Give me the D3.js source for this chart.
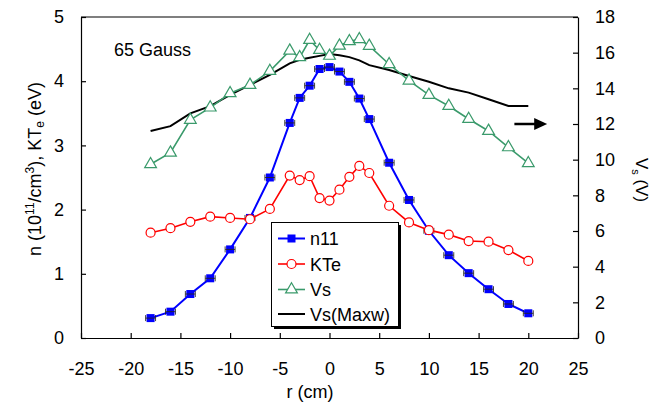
<!DOCTYPE html>
<html><head><meta charset="utf-8">
<script src="https://cdn.jsdelivr.net/npm/d3@7"></script>
<style>
html,body{margin:0;padding:0;background:#fff;}
svg{display:block;font-family:"Liberation Sans",Arial,Helvetica,sans-serif;}
</style></head>
<body>
<svg id="chart" width="652" height="407"></svg>
<script>
// ---- data ----
const rPos   = [-18,-16,-14,-12,-10,-8,-6,-4,-3,-2,-1,0,1,2,3,4,6,8,10,12,14,16,18,20];
const n11    = [0.31,0.41,0.685,0.93,1.38,1.87,2.50,3.35,3.74,3.93,4.19,4.22,4.15,3.99,3.73,3.41,2.73,2.15,1.67,1.29,1.01,0.76,0.53,0.385];
const n11Err = [0.5,0.5,0.5,0.5,0.5,0.5,0.5,0.5,0.5,0.5,0.5,0.5,0.5,0.5,0.5,0.5,0.5,0.5,0.5,0.5,0.5,0.5,0.5,0.5];
const kTe    = [1.64,1.71,1.81,1.89,1.87,1.85,2.01,2.53,2.46,2.52,2.18,2.14,2.31,2.51,2.68,2.57,2.06,1.80,1.68,1.61,1.51,1.50,1.37,1.20];
const vs     = [9.74,10.39,12.23,12.92,13.72,14.19,14.97,16.11,15.74,16.71,16.15,15.82,16.39,16.64,16.75,16.38,15.35,14.43,13.63,13.01,12.28,11.61,10.69,9.80];
const rMaxw  = [-18,-16,-14,-12,-10,-8,-6,-4,-3,-2,-1,0,1,2,3,4,6,8,10,12,14,16,18,20];
const vsMaxw = [11.61,11.88,12.6,13.0,13.63,14.19,14.75,15.4,15.6,15.72,15.82,15.93,15.85,15.75,15.57,15.3,15.03,14.69,14.37,14.0,13.76,13.39,13.01,13.01];
const xTicks  = [-25,-20,-15,-10,-5,0,5,10,15,20,25];
const yLTicks = [0,1,2,3,4,5];
const yRTicks = [0,2,4,6,8,10,12,14,16,18];
const seriesNames = ["n11","KTe","Vs","Vs(Maxw)"];
const arrowR = [18.6, 21.9];
const arrowV = 12;

// ---- layout ----
const L=81, R=578, T=17, B=338;
const x  = d3.scaleLinear().domain([-25,25]).range([L,R]);
const yL = d3.scaleLinear().domain([0,5]).range([B,T]);
const yR = d3.scaleLinear().domain([0,18]).range([B,T]);
const cBlue="#0000ff", cRed="#ff0000", cGreen="#3a9a6b", cBlack="#000";
const fmt = d => String(d);

const svg = d3.select("#chart");

// axes
const fs = "18px";
const gx = svg.append("g").attr("transform",`translate(0,${B})`)
  .call(d3.axisBottom(x).tickValues(xTicks).tickSizeInner(-5).tickSizeOuter(0).tickPadding(24).tickFormat(fmt));
const gl = svg.append("g").attr("transform",`translate(${L},0)`)
  .call(d3.axisLeft(yL).tickValues(yLTicks).tickSizeInner(-5).tickSizeOuter(0).tickPadding(17).tickFormat(fmt));
const gr = svg.append("g").attr("transform",`translate(${R},0)`)
  .call(d3.axisRight(yR).tickValues(yRTicks).tickSizeInner(-5).tickSizeOuter(0).tickPadding(17).tickFormat(fmt));
[gx,gl,gr].forEach(g=>{
  g.selectAll("text").attr("font-size",fs).attr("font-family","Liberation Sans, Arial, sans-serif").attr("fill","#000");
  g.selectAll("line,path").attr("stroke","#000").attr("stroke-width",1.2);
});
gx.selectAll(".tick text").attr("dy","0").attr("y",37);
// top frame line
svg.append("line").attr("x1",L).attr("x2",R).attr("y1",T).attr("y2",T).attr("stroke","#000").attr("stroke-width",1.2);

// axis titles
svg.append("text").attr("x",310).attr("y",398).attr("text-anchor","middle").attr("font-size",fs).text("r (cm)");
const lt = svg.append("text").attr("transform",`translate(41,169) rotate(-90)`).attr("text-anchor","middle").attr("font-size",fs);
lt.append("tspan").text("n (10");
lt.append("tspan").attr("font-size","12px").attr("dy","-7").text("11");
lt.append("tspan").attr("dy","7").text("/cm");
lt.append("tspan").attr("font-size","12px").attr("dy","-7").text("3");
lt.append("tspan").attr("dy","7").text("), KT");
lt.append("tspan").attr("font-size","12px").attr("dy","3").text("e");
lt.append("tspan").attr("dy","-3").text(" (eV)");
const rt = svg.append("text").attr("transform",`translate(636,180) rotate(90)`).attr("text-anchor","middle").attr("font-size","17px");
rt.append("tspan").text("V");
rt.append("tspan").attr("font-size","11px").attr("dy","4").text("s");
rt.append("tspan").attr("dy","-4").text(" (V)");

// annotation
svg.append("text").attr("x",114).attr("y",56).attr("font-size",fs).text("65 Gauss");
svg.append("line").attr("x1",x(arrowR[0])).attr("x2",x(arrowR[1])-10).attr("y1",yR(arrowV)).attr("y2",yR(arrowV)).attr("stroke","#000").attr("stroke-width",2.5);
svg.append("path").attr("d",`M${x(arrowR[1])},${yR(arrowV)} L${x(arrowR[1])-13},${yR(arrowV)-6} L${x(arrowR[1])-13},${yR(arrowV)+6}Z`).attr("fill","#000");

// series
const dN = rPos.map((r,i)=>({r,v:n11[i],e:n11Err[i]}));
const dK = rPos.map((r,i)=>({r,v:kTe[i]}));
const dV = rPos.map((r,i)=>({r,v:vs[i]}));
const dM = rMaxw.map((r,i)=>({r,v:vsMaxw[i]}));

svg.append("path").datum(dM).attr("fill","none").attr("stroke",cBlack).attr("stroke-width",2)
  .attr("d",d3.line().x(d=>x(d.r)).y(d=>yR(d.v)));

svg.append("path").datum(dV).attr("fill","none").attr("stroke",cGreen).attr("stroke-width",1.6)
  .attr("d",d3.line().x(d=>x(d.r)).y(d=>yR(d.v)));
const tri = d3.symbol().type(d3.symbolTriangle).size(60);
svg.append("g").selectAll("path").data(dV).join("path")
  .attr("transform",d=>`translate(${x(d.r)},${yR(d.v)})`).attr("d",tri)
  .attr("fill","#fff").attr("stroke",cGreen).attr("stroke-width",1.2);

svg.append("path").datum(dN).attr("fill","none").attr("stroke",cBlue).attr("stroke-width",2)
  .attr("d",d3.line().x(d=>x(d.r)).y(d=>yL(d.v)));
svg.append("g").selectAll("rect").data(dN).join("rect")
  .attr("x",d=>x(d.r)-4).attr("y",d=>yL(d.v)-4).attr("width",8).attr("height",8).attr("fill",cBlue);
const eb = svg.append("g").attr("stroke","#222").attr("stroke-width",1).attr("stroke-opacity",0.85);
eb.selectAll("line.h").data(dN).join("line").attr("class","h")
  .attr("x1",d=>x(d.r-d.e)).attr("x2",d=>x(d.r+d.e)).attr("y1",d=>yL(d.v)).attr("y2",d=>yL(d.v));
eb.selectAll("line.c1").data(dN).join("line").attr("class","c1")
  .attr("x1",d=>x(d.r-d.e)).attr("x2",d=>x(d.r-d.e)).attr("y1",d=>yL(d.v)-3).attr("y2",d=>yL(d.v)+3);
eb.selectAll("line.c2").data(dN).join("line").attr("class","c2")
  .attr("x1",d=>x(d.r+d.e)).attr("x2",d=>x(d.r+d.e)).attr("y1",d=>yL(d.v)-3).attr("y2",d=>yL(d.v)+3);

svg.append("path").datum(dK).attr("fill","none").attr("stroke",cRed).attr("stroke-width",1.6)
  .attr("d",d3.line().x(d=>x(d.r)).y(d=>yL(d.v)));
svg.append("g").selectAll("circle").data(dK).join("circle")
  .attr("cx",d=>x(d.r)).attr("cy",d=>yL(d.v)).attr("r",4.5)
  .attr("fill","#fff").attr("stroke",cRed).attr("stroke-width",1.2);

// legend
const lg = svg.append("g");
lg.append("rect").attr("x",274).attr("y",225).attr("width",127).attr("height",104).attr("fill","#000");
lg.append("rect").attr("x",271.5).attr("y",222.5).attr("width",127).attr("height",104).attr("fill","#fff").attr("stroke","#000").attr("stroke-width",1);
const ly = [238.5,264,289.5,314];
const lc = [cBlue,cRed,cGreen,cBlack];
seriesNames.forEach((nm,i)=>{
  lg.append("line").attr("x1",278).attr("x2",305).attr("y1",ly[i]).attr("y2",ly[i]).attr("stroke",lc[i]).attr("stroke-width",i===0||i===3?2:1.6);
  if(i===0) lg.append("rect").attr("x",287.5).attr("y",ly[i]-4).attr("width",8).attr("height",8).attr("fill",cBlue);
  if(i===1) lg.append("circle").attr("cx",291.5).attr("cy",ly[i]).attr("r",4.5).attr("fill","#fff").attr("stroke",cRed).attr("stroke-width",1.2);
  if(i===2) lg.append("path").attr("transform",`translate(291.5,${ly[i]})`).attr("d",tri).attr("fill","#fff").attr("stroke",cGreen).attr("stroke-width",1.2);
  lg.append("text").attr("x",310).attr("y",ly[i]+6.5).attr("font-size",fs).text(nm);
});
</script>
</body></html>
